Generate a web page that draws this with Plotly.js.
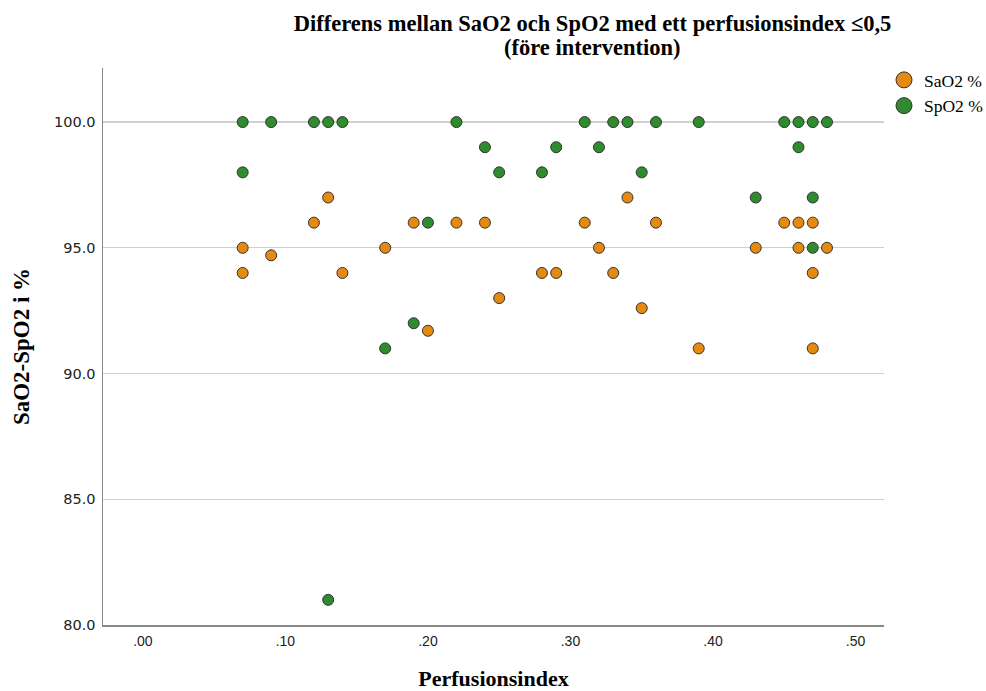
<!DOCTYPE html>
<html>
<head>
<meta charset="utf-8">
<script src="https://cdn.plot.ly/plotly-3.0.1.min.js"></script>
<style>html,body{margin:0;padding:0;background:#fff;}#chart{width:986px;height:691px;}</style>
</head>
<body>
<div id="chart"></div>
<script>
// SaO2 % series
const saoX = [0.07, 0.07, 0.09, 0.12, 0.13, 0.14, 0.17, 0.19, 0.20, 0.22, 0.24, 0.25, 0.28, 0.29, 0.31, 0.32, 0.33, 0.34, 0.35, 0.36, 0.39, 0.43, 0.45, 0.46, 0.46, 0.47, 0.47, 0.47, 0.48];
const saoY = [95, 94, 94.7, 96, 97, 94, 95, 96, 91.7, 96, 96, 93, 94, 94, 96, 95, 94, 97, 92.6, 96, 91, 95, 96, 96, 95, 96, 94, 91, 95];
// SpO2 % series
const spoX = [0.07, 0.07, 0.09, 0.12, 0.13, 0.13, 0.14, 0.17, 0.19, 0.20, 0.22, 0.24, 0.25, 0.28, 0.29, 0.31, 0.32, 0.33, 0.34, 0.35, 0.36, 0.39, 0.43, 0.45, 0.46, 0.46, 0.47, 0.47, 0.47, 0.48];
const spoY = [100, 98, 100, 100, 100, 81, 100, 91, 92, 96, 100, 99, 98, 98, 99, 100, 99, 100, 100, 98, 100, 100, 97, 100, 100, 99, 100, 97, 95, 100];
const seriesNames = ['SaO2 %', 'SpO2 %'];
const seriesColors = ['#E58A10', '#2E8B2E'];
const xTickVals = [0, 0.1, 0.2, 0.3, 0.4, 0.5];
const xTickText = ['.00', '.10', '.20', '.30', '.40', '.50'];
const yTickVals = [80, 85, 90, 95, 100];
const yTickText = ['80.0', '85.0', '90.0', '95.0', '100.0'];
const titleLine1 = 'Differens mellan SaO2 och SpO2 med ett perfusionsindex ≤0,5';
const titleLine2 = '(före intervention)';

const serif = 'Liberation Serif, Times New Roman, serif';
const mk = (color, size) => ({size: size, color: color, line: {color: '#333333', width: 1}});
const traces = [
  {x: saoX, y: saoY, mode: 'markers', type: 'scatter', name: seriesNames[0], marker: mk(seriesColors[0], 11), showlegend: false},
  {x: spoX, y: spoY, mode: 'markers', type: 'scatter', name: seriesNames[1], marker: mk(seriesColors[1], 11), showlegend: false},
  // legend entries (larger legend symbols, as in the reference)
  {x: [null], y: [null], mode: 'markers', type: 'scatter', name: seriesNames[0], marker: mk(seriesColors[0], 16)},
  {x: [null], y: [null], mode: 'markers', type: 'scatter', name: seriesNames[1], marker: mk(seriesColors[1], 16)}
];
const layout = {
  width: 986, height: 691,
  margin: {l: 103, r: 94, t: 68, b: 66, pad: 0},
  paper_bgcolor: '#fff', plot_bgcolor: '#fff',
  title: {
    text: '<b>' + titleLine1 + '</b>',
    font: {family: serif, size: 22.5, color: '#000'},
    x: 0.601, xref: 'container', xanchor: 'center', y: 1 - 23 / 691, yref: 'container', yanchor: 'middle'
  },
  annotations: [{
    text: '<b>' + titleLine2 + '</b>', showarrow: false,
    xref: 'paper', yref: 'paper', x: (592 - 103) / 781, y: 1 + (68 - 47) / 557,
    xanchor: 'center', yanchor: 'middle',
    font: {family: serif, size: 22.5, color: '#000'}
  }],
  xaxis: {
    range: [-0.028, 0.52], tickvals: xTickVals, ticktext: xTickText,
    showgrid: false, zeroline: false, showline: true, linecolor: '#888', linewidth: 1.5,
    ticks: '', ticklabelstandoff: 3,
    tickfont: {family: 'Liberation Sans Narrow, Liberation Sans, Arial, sans-serif', size: 14, color: '#222'},
    title: {text: '<b>Perfusionsindex</b>', standoff: 24,
      font: {family: serif, size: 22, color: '#000'}}
  },
  yaxis: {
    range: [80, 102.15], tickvals: yTickVals, ticktext: yTickText,
    showgrid: true, gridcolor: '#d0d0d0', gridwidth: 1.2, zeroline: false,
    showline: true, linecolor: '#888', linewidth: 1.5, ticks: '', ticklabelstandoff: 3,
    tickfont: {family: 'DejaVu Sans, Verdana, sans-serif', size: 14.5, color: '#222'},
    title: {text: '<b>SaO2-SpO2 i %</b>', standoff: 18,
      font: {family: serif, size: 23, color: '#000'}}
  },
  legend: {
    x: 884 / 986, xref: 'container', xanchor: 'left',
    y: 1 - 62 / 691, yref: 'container', yanchor: 'top',
    font: {family: serif, size: 17.5, color: '#000'},
    itemsizing: 'trace', tracegroupgap: 0, bgcolor: 'rgba(0,0,0,0)', itemwidth: 30
  },
  showlegend: true
};
Plotly.newPlot('chart', traces, layout, {displayModeBar: false, staticPlot: true});
</script>
</body>
</html>
